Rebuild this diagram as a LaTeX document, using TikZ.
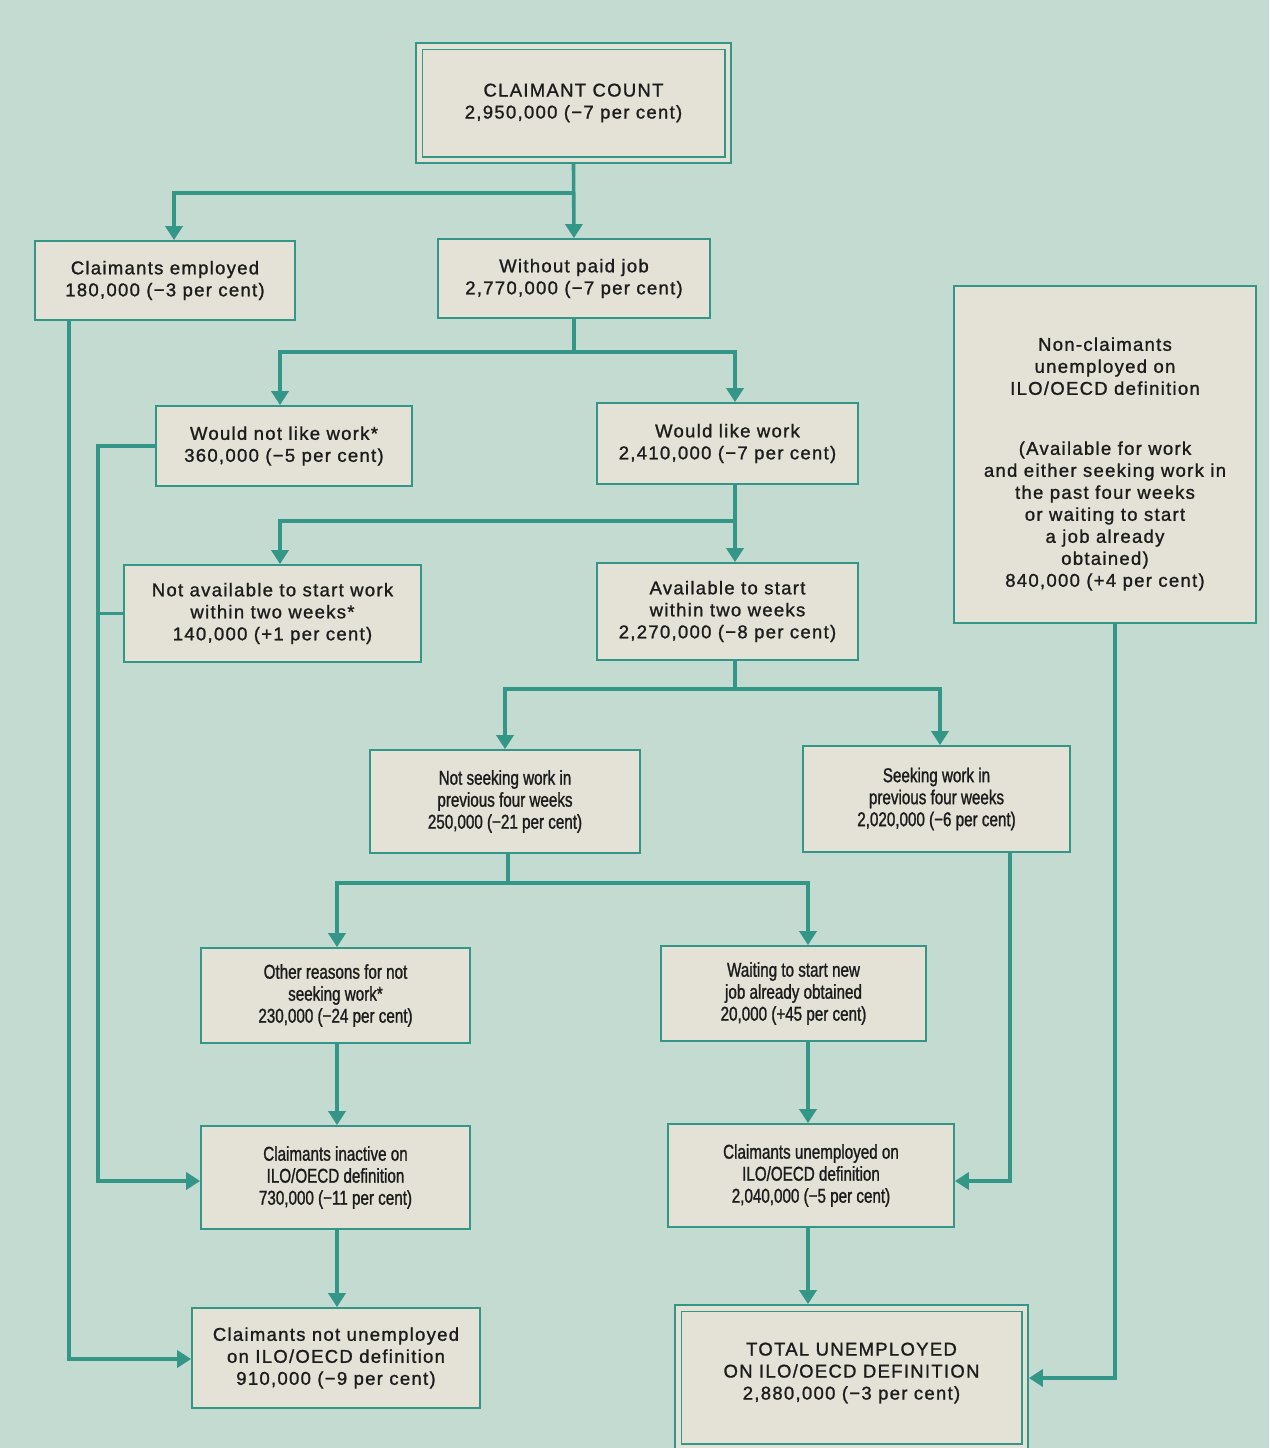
\documentclass[tikz,border=0pt]{standalone}
\usepackage{fontspec}
\setmainfont{Liberation Sans}
\newfontfamily\wideF[LetterSpace=7,FakeBold=1.2]{Liberation Sans}
\newfontfamily\condF[FakeStretch=0.76,FakeBold=1.2]{Liberation Sans}
\usetikzlibrary{arrows.meta}
\definecolor{bgc}{RGB}{196,219,210}
\definecolor{boxc}{RGB}{228,226,214}
\definecolor{tealc}{RGB}{52,150,134}
\definecolor{txtc}{RGB}{28,28,28}
\tikzset{
  box/.style={draw=tealc, fill=boxc, line width=1.8pt, inner sep=0pt, align=center,
    text=txtc, font=\fontsize{18.5}{22}\selectfont\wideF},
  cbox/.style={box, font=\fontsize{20}{22}\selectfont\condF},
  boxtext/.style={inner sep=0pt, align=center, text=txtc, font=\fontsize{18.5}{22}\selectfont\wideF},
  conn/.style={draw=tealc, line width=3.6pt},
  arr/.style={conn, -{Triangle[length=14pt,width=17pt]}}
}
\begin{document}
\begin{tikzpicture}[x=1pt,y=-1pt]
\fill[bgc] (0,0) rectangle (1269,1448);
\useasboundingbox (0,0) rectangle (1269,1448);

% junction coordinates
\coordinate (j1) at (574,193);
\coordinate (j2) at (574,352);
\coordinate (j3) at (735,521);
\coordinate (j4) at (735,689);
\coordinate (j5) at (508,883);
\coordinate (l1) at (98,446);

% nodes
\node[box, minimum width=315, minimum height=120] (cc) at (573.5,103) {CLAIMANT COUNT\\2,950,000 (−7 per cent)};
\draw[tealc, line width=1.2pt] ([shift={(7,7)}]cc.north west) rectangle ([shift={(-7,-7)}]cc.south east);
\node[box, minimum width=260, minimum height=79] (emp) at (165,280.5) {Claimants employed\\180,000 (−3 per cent)};
\node[box, minimum width=272, minimum height=79] (wpj) at (574,278.5) {Without paid job\\2,770,000 (−7 per cent)};
\node[box, minimum width=256, minimum height=80] (wnl) at (284,446) {Would not like work*\\360,000 (−5 per cent)};
\node[box, minimum width=261, minimum height=81] (wl) at (727.5,443.5) {Would like work\\2,410,000 (−7 per cent)};
\node[box, minimum width=297, minimum height=97] (na) at (272.5,613.5) {Not available to start work\\within two weeks*\\140,000 (+1 per cent)};
\node[box, minimum width=261, minimum height=97] (av) at (727.5,611.5) {Available to start\\within two weeks\\2,270,000 (−8 per cent)};
\node[cbox, minimum width=270, minimum height=103] (ns) at (505,801.5) {Not seeking work in\\previous four weeks\\250,000 (−21 per cent)};
\node[cbox, minimum width=267, minimum height=106] (sk) at (936.5,799) {Seeking work in\\previous four weeks\\2,020,000 (−6 per cent)};
\node[cbox, minimum width=269, minimum height=95] (or) at (335.5,995.5) {Other reasons for not\\seeking work*\\230,000 (−24 per cent)};
\node[cbox, minimum width=265, minimum height=95] (wt) at (793.5,993.5) {Waiting to start new\\job already obtained\\20,000 (+45 per cent)};
\node[cbox, minimum width=269, minimum height=103] (ci) at (335.5,1177.5) {Claimants inactive on\\ILO/OECD definition\\730,000 (−11 per cent)};
\node[cbox, minimum width=286, minimum height=103] (cu) at (811,1175.5) {Claimants unemployed on\\ILO/OECD definition\\2,040,000 (−5 per cent)};
\node[box, minimum width=288, minimum height=100] (cn) at (336,1358) {Claimants not unemployed\\on ILO/OECD definition\\910,000 (−9 per cent)};
\node[box, minimum width=353, minimum height=145] (tu) at (851.5,1377.5) {};
\draw[tealc, line width=1.2pt] ([shift={(7,7)}]tu.north west) rectangle ([shift={(-7,-7)}]tu.south east);
\node[boxtext] (tut) at (851.5,1373) {TOTAL UNEMPLOYED\\ON ILO/OECD DEFINITION\\2,880,000 (−3 per cent)};
\node[box, minimum width=302, minimum height=337] (nc) at (1105,454.5) {};
\node[boxtext] (nct) at (1105,464) {Non-claimants\\unemployed on\\ILO/OECD definition\\[38pt](Available for work\\and either seeking work in\\the past four weeks\\or waiting to start\\a job already\\obtained)\\840,000 (+4 per cent)};

% connectors
\draw[arr] (cc.south) -- (wpj.north);
\draw[arr] (j1) -| ([xshift=9pt]emp.north);
\draw[conn] (wpj.south) -- (j2);
\draw[arr] (j2) -| ([xshift=-4pt]wnl.north);
\draw[arr] (j2) -| ([xshift=7.5pt]wl.north);
\draw[arr] ([xshift=7.5pt]wl.south) -- ([xshift=7.5pt]av.north);
\draw[arr] (j3) -| ([xshift=7.5pt]na.north);
\draw[conn] ([xshift=7.5pt]av.south) -- (j4);
\draw[arr] (j4) -| (ns.north);
\draw[arr] (j4) -| ([xshift=3.5pt]sk.north);
\draw[conn] ([xshift=3pt]ns.south) -- (j5);
\draw[arr] (j5) -| ([xshift=1.5pt]or.north);
\draw[arr] (j5) -| ([xshift=14.5pt]wt.north);
\draw[arr] ([xshift=1.5pt]or.south) -- ([xshift=1.5pt]ci.north);
\draw[arr] ([xshift=-3pt]cu.north |- wt.south) -- ([xshift=-3pt]cu.north);
\draw[arr] ([xshift=1.5pt]ci.south) -- ([xshift=1pt]cn.north);
\draw[arr] ([xshift=-3pt]cu.south) -- ([xshift=-43.5pt]tu.north);
\draw[arr] ([xshift=73.5pt]sk.south) |- ([yshift=-5.5pt]cu.east);
\draw[arr] ([xshift=10pt]nc.south) |- ([yshift=-0.5pt]tu.east);
\draw[arr] ([xshift=-96pt]emp.south) |- ([yshift=-1pt]cn.west);
\draw[arr] (wnl.west) -- (l1) |- ([yshift=-3.5pt]ci.west);
\draw[conn] (na.west) -- (l1 |- na.west);
\end{tikzpicture}
\end{document}
